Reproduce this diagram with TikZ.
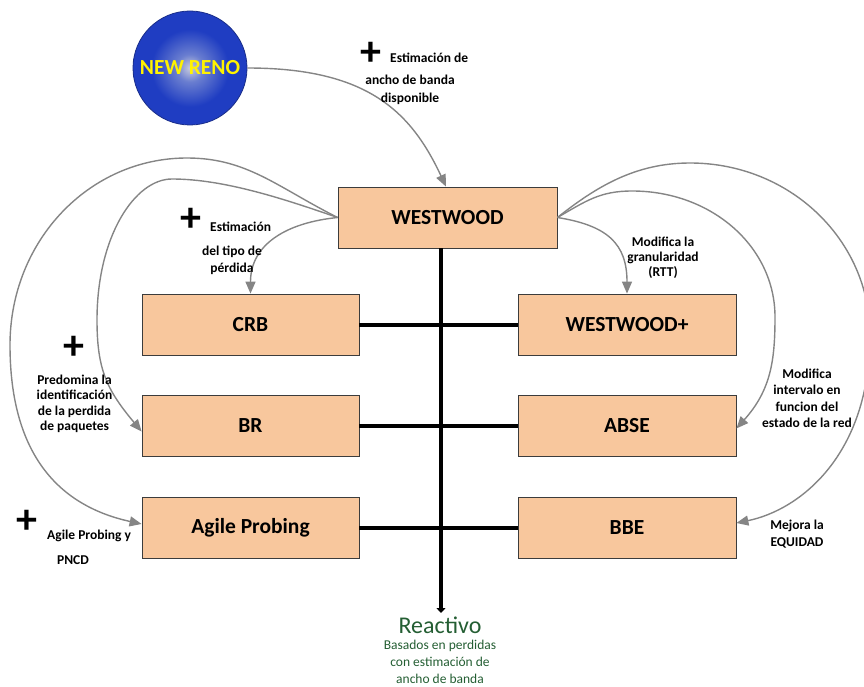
\documentclass[tikz,border=0pt]{standalone}
\usepackage{fontspec}
\setmainfont{Carlito}
\usetikzlibrary{arrows.meta,calc}

\definecolor{boxfill}{HTML}{F8C79D}
\definecolor{boxline}{HTML}{3C3C3C}
\definecolor{linkgray}{HTML}{858585}
\definecolor{reactgreen}{HTML}{245E33}
\definecolor{renolight}{HTML}{C9CCDD}
\definecolor{renomid}{HTML}{6A7ED0}
\definecolor{renodark}{HTML}{1F3DC2}
\definecolor{renoedge}{HTML}{1A2E8A}

\pgfdeclareradialshading{renoball}{\pgfpoint{0bp}{0bp}}{%
  color(0bp)=(renolight);color(6bp)=(renomid);color(17bp)=(renodark);%
  color(25bp)=(renodark);color(50bp)=(renodark)}

\begin{document}
\begin{tikzpicture}[x=1pt,y=-1pt,
  proto/.style={draw=boxline, line width=0.8pt, fill=boxfill,
    minimum width=217pt, minimum height=61pt, inner sep=0pt,
    font=\fontsize{21.5}{24}\selectfont\bfseries},
  link/.style={draw=linkgray, line width=1.4pt,
    -{Triangle[length=12pt,width=10pt]}},
  bus/.style={line width=4pt, draw=black},
  note/.style={font=\fontsize{13.5}{16}\selectfont\bfseries, align=center,
    inner sep=0pt},
  plus/.style={font=\fontsize{42}{42}\selectfont\bfseries, inner sep=0pt}]

\useasboundingbox (0,0) rectangle (864,687);

% protocol boxes
\node[proto, minimum width=219pt] (ww) at (447.5,217.5) {WESTWOOD};
\node[proto] (crb)  at (250.5,324.5) {CRB};
\node[proto, minimum width=218pt] (wwp) at (627,324.5) {WESTWOOD+};
\node[proto] (br)   at (250.5,425.5) {BR};
\node[proto, minimum width=218pt] (abse) at (627,425.5) {ABSE};
\node[proto] (ap)   at (250.5,527.5) {Agile Probing};
\node[proto, minimum width=218pt] (bbe) at (627,527.5) {BBE};

% origin protocol
\node[circle, minimum size=114pt, draw=renoedge, line width=0.8pt,
  shading=renoball, text=yellow, inner sep=0pt,
  font=\fontsize{21.5}{24}\selectfont\bfseries] (reno) at (190,68) {NEW RENO};

% category label (multi-line nodes sit on the baseline of their last line)
\node[font=\fontsize{24}{27}\selectfont, text=reactgreen, inner sep=0pt]
  (react) at (440,625) {Reactivo};
\node[font=\fontsize{13.5}{17}\selectfont, text=reactgreen, align=center,
  inner sep=0pt, anchor=base] (reactsub) at (440,683)
  {Basados en perdidas\\con estimación de\\ancho de banda};

% backbone
\coordinate (bustop) at ([xshift=-6.5pt]ww.south);
\coordinate (busend) at (441,613);
\draw[bus, -{Triangle[length=5pt,width=9pt]}] (bustop) -- (busend);
\draw[bus] (crb) -- (wwp);
\draw[bus] (br) -- (abse);
\draw[bus] (ap) -- (bbe);

% evolution links
\draw[link] (reno.east) .. controls +(120,0) and +(-35,-75) .. ([xshift=-1.5pt]ww.north);
\draw[link] (ww.west) .. controls +(-50,5) and +(0,-50) .. (crb.north);
\draw[link] (ww.east) .. controls +(50,8) and +(0,-50) .. (wwp.north);
\draw[link] (ww.west) .. controls (287,200) and (225,179) .. (172,179)
  .. controls (135,179) and (97,236) .. (97,320)
  .. controls (97,370) and (107,390) .. ([yshift=-6pt]br.west);
\draw[link] (ww.west) .. controls (277,187) and (247,158) .. (187,158)
  .. controls (89,158) and (10,241) .. (10,345)
  .. controls (10,450) and (55,505) .. ([yshift=3.5pt]ap.west);
\draw[link] (ww.east) .. controls (586,201) and (600,191) .. (632,191)
  .. controls (712,191) and (775,247) .. (775,317)
  .. controls (775,360) and (771,390) .. ([yshift=-3pt]abse.east);
\draw[link] (ww.east) .. controls (596,187) and (635,163) .. (690,163)
  .. controls (790,163) and (870,240) .. (870,335)
  .. controls (870,455) and (800,510) .. ([yshift=4.5pt]bbe.east);

% annotations
\node[plus] (p1) at (371,54) {+};
\node[note, anchor=base west] (n1a) at (390,63) {Estimación de};
\node[note, anchor=base, font=\fontsize{13.5}{18}\selectfont\bfseries] (n1b) at (410,103) {ancho de banda\\disponible};

\node[plus] (p2) at (191,220) {+};
\node[note, anchor=base west] (n2a) at (210,231) {Estimación};
\node[note, anchor=base, font=\fontsize{13.5}{17}\selectfont\bfseries] (n2b) at (232,272) {del tipo de\\pérdida};

\node[plus] (p3) at (74,348) {+};
\node[note, anchor=base, font=\fontsize{13.5}{15.5}\selectfont\bfseries] (n3) at (74.5,430.5)
  {Predomina la\\identificación\\de la perdida\\de paquetes};

\node[plus] (p4) at (27,522) {+};
\node[note, anchor=base west] (n4a) at (47,539) {Agile Probing y};
\node[note, anchor=base] (n4b) at (73,564) {PNCD};

\node[note, anchor=base, font=\fontsize{13.5}{15}\selectfont\bfseries] (n5) at (663,276)
  {Modifica la\\granularidad\\(RTT)};
\node[note, anchor=base, font=\fontsize{13.5}{16.5}\selectfont\bfseries] (n6) at (807,427.5)
  {Modifica\\intervalo en\\funcion del\\estado de la red};
\node[note, anchor=base, font=\fontsize{13.5}{17}\selectfont\bfseries] (n7) at (797,546)
  {Mejora la\\EQUIDAD};

\end{tikzpicture}
\end{document}
